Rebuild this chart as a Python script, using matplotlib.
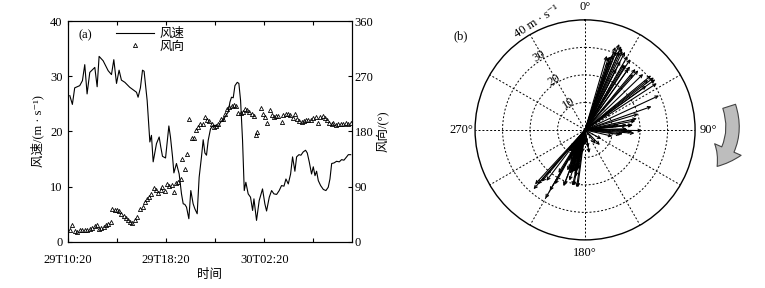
import numpy as np
import matplotlib
matplotlib.use("Agg")
import matplotlib.pyplot as plt
from matplotlib.lines import Line2D
from matplotlib.patches import FancyArrowPatch

plt.rcParams['font.family'] = ['Liberation Serif', 'Noto Sans CJK SC', 'DejaVu Sans']
plt.rcParams['font.size'] = 9

# wind speed (m/s), time in hours after 29T10:20
spd_hours = [0.14, 0.35, 0.54, 0.95, 1.17, 1.36, 1.55, 1.77, 2.18, 2.37, 2.53, 2.86, 3.27, 3.54,
             3.73, 3.95, 4.16, 4.35, 4.63, 5.03, 5.58, 5.71, 5.90, 6.07, 6.20, 6.45, 6.67, 6.80,
             6.94, 7.21, 7.43, 7.56, 7.70, 7.95, 8.22, 8.35, 8.52, 8.63, 8.84, 9.06, 9.25, 9.39,
             9.52, 9.66, 9.85, 10.01, 10.20, 10.34, 10.53, 10.69, 10.88, 11.02, 11.16, 11.29,
             11.43, 11.62, 11.84, 12.05, 12.24, 12.44, 12.65, 12.87, 13.06, 13.20, 13.33, 13.47,
             13.61, 13.80, 13.93, 14.07, 14.23, 14.37, 14.50, 14.69, 14.88, 15.05, 15.16, 15.37,
             15.59, 15.86, 16.05, 16.19, 16.41, 16.60, 16.79, 17.01, 17.22, 17.41, 17.61, 17.77,
             17.96, 18.15, 18.31, 18.50, 18.64, 18.83, 18.99, 19.18, 19.37, 19.51, 19.67, 19.86,
             20.00, 20.14, 20.27, 20.41, 20.60, 20.82, 21.03, 21.22, 21.36, 21.50, 21.69, 21.90,
             22.12, 22.31, 22.50, 22.72, 22.86, 23.05]
speed = [26.5, 24.9, 27.9, 28.3, 29.2, 32.1, 26.8, 30.7, 31.6, 28.1, 33.6, 32.8, 31.0, 30.3,
         33.0, 28.7, 31.1, 29.3, 28.9, 28.0, 27.1, 26.2, 27.9, 31.1, 30.9, 25.6, 18.1, 19.3,
         14.5, 17.8, 19.0, 17.2, 15.5, 15.2, 21.0, 19.0, 15.4, 12.5, 14.2, 12.3, 8.7, 6.9,
         6.8, 6.3, 4.2, 9.3, 6.9, 6.0, 5.1, 11.7, 15.4, 18.5, 16.1, 15.7,
         18.4, 20.5, 21.1, 21.1, 20.8, 21.7, 22.0, 22.9, 23.5, 25.3, 26.2, 26.1,
         28.3, 28.9, 28.7, 25.6, 18.4, 9.3, 10.8, 8.7, 8.1, 5.7, 7.8, 3.9,
         7.5, 9.6, 6.9, 5.6, 8.1, 9.3, 8.7, 8.6, 9.3, 10.2, 10.1, 11.4,
         10.5, 12.3, 15.4, 12.8, 15.4, 15.8, 15.7, 16.3, 16.6, 16.1, 14.5, 12.3,
         13.6, 12.0, 12.8, 11.1, 10.2, 9.5, 9.3, 9.9, 11.4, 14.2, 14.3, 14.6,
         14.5, 14.9, 14.8, 15.4, 15.8, 15.8]

# wind direction (deg)
dir_hours = [0.19, 0.35, 0.54, 0.73, 0.95, 1.14, 1.36, 1.55, 1.77, 1.99, 2.18, 2.37, 2.53, 2.72,
             2.91, 3.07, 3.27, 3.46, 3.62, 3.81, 4.00, 4.16, 4.35, 4.54, 4.71, 4.90, 5.09, 5.25,
             5.44, 5.63, 5.85, 6.07, 6.26, 6.45, 6.61, 6.80, 6.99, 7.16, 7.35, 7.54, 7.70, 7.89,
             8.08, 8.24, 8.44, 8.63, 8.79, 8.98, 9.17, 9.33, 9.52, 9.66, 9.88, 10.07, 10.26,
             10.42, 10.61, 10.80, 10.97, 11.16, 11.35, 11.51, 11.70, 11.89, 12.05, 12.24, 12.44,
             12.60, 12.79, 12.98, 13.14, 13.33, 13.52, 13.69, 13.88, 14.07, 14.23, 14.42, 14.61,
             14.78, 14.97, 15.16, 15.32, 15.43, 15.70, 15.86, 16.05, 16.24, 16.46, 16.60, 16.79,
             16.95, 17.14, 17.41, 17.55, 17.77, 17.96, 18.10, 18.31, 18.50, 18.69, 18.86, 19.05,
             19.24, 19.40, 19.59, 19.78, 20.00, 20.22, 20.41, 20.54, 20.76, 20.95, 21.14, 21.31,
             21.50, 21.63, 21.85, 22.04, 22.23, 22.45, 22.67, 22.86, 23.05]
direction = [19.0, 27.1, 17.9, 16.3, 19.0, 20.1, 20.1, 20.1, 21.2, 23.3, 25.5, 27.1, 21.7, 23.3,
             24.4, 27.1, 29.9, 32.6, 54.3, 52.7, 51.6, 50.5, 46.1, 41.8, 39.6, 35.3, 32.0, 30.9,
             35.3, 40.7, 54.3, 57.0, 65.1, 70.6, 73.3, 77.6, 88.5, 84.1, 79.8, 84.1, 89.6, 83.1,
             93.9, 90.7, 92.3, 81.4, 96.1, 97.7, 103.1, 135.7, 119.4, 142.8, 200.9, 169.9, 169.9,
             181.9, 187.3, 191.6, 191.6, 203.6, 199.2, 197.1, 191.6, 187.3, 188.4, 192.7, 200.9,
             200.9, 209.0, 217.2, 219.9, 221.0, 222.6, 221.0, 210.1, 210.1, 211.7, 217.2, 214.4,
             211.7, 207.9, 204.7, 173.7, 179.2, 218.8, 207.9, 203.6, 193.8, 214.4, 206.3, 203.6,
             205.2, 204.7, 195.4, 206.3, 209.0, 207.9, 206.3, 202.5, 207.9, 200.9, 197.1, 195.4,
             197.1, 198.2, 199.2, 199.2, 202.5, 203.6, 193.8, 203.6, 204.7, 202.5, 198.2, 193.8,
             192.7, 193.8, 190.0, 191.6, 192.7, 192.7, 193.8, 192.7, 193.8]

time_ticks = [0, 4, 8, 12, 16, 20]
time_labels = ['29T10:20', '', '29T18:20', '', '30T02:20', '']

fig = plt.figure(figsize=(7.65, 2.88), dpi=100)

# ---- panel (a): time series ----
ax = fig.add_axes([0.089, 0.160, 0.371, 0.767])
ax.plot(spd_hours, speed, color='black', lw=0.8)
ax.set_xlim(0, 23.15)
ax.set_ylim(0, 40)
ax.set_yticks([0, 10, 20, 30, 40])
ax.set_xticks(time_ticks)
ax.set_xticklabels(time_labels)
ax.tick_params(direction='in', top=True, length=3)
ax.tick_params(axis='x', pad=9)
ax.tick_params(axis='y', pad=4)
ax.set_ylabel('风速/(m · s⁻¹)', labelpad=4)
ax.set_xlabel('时间', labelpad=2)
ax.text(0.035, 0.92, '(a)', transform=ax.transAxes, fontsize=9)

ax2 = ax.twinx()
ax2.plot(dir_hours, direction, linestyle='none', marker='^', markersize=3,
         mfc='none', mec='black', mew=0.6)
ax2.set_ylim(0, 360)
ax2.set_yticks([0, 90, 180, 270, 360])
ax2.tick_params(direction='in', length=3, pad=2)
ax2.set_ylabel('风向/(°)', labelpad=2)

handles = [Line2D([], [], color='black', lw=0.8),
           Line2D([], [], linestyle='none', marker='^', markersize=3, mfc='none',
                  mec='black', mew=0.6)]
ax.legend(handles, ['风速', '风向'], loc='upper left', bbox_to_anchor=(0.13, 1.02),
          frameon=False, handlelength=3.0, handletextpad=0.5, labelspacing=0.05,
          fontsize=9)

# ---- panel (b): wind vectors ----
pax = fig.add_axes([0.621, 0.167, 0.2876, 0.764], projection='polar')
pax.set_theta_zero_location('N')
pax.set_theta_direction(-1)
pax.set_ylim(0, 40)
pax.set_yticks([10, 20, 30])
pax.set_yticklabels([])
pax.set_thetagrids(range(0, 360, 30),
                   ['0°', '', '', '90°', '', '', '180°', '', '', '270°', '', ''],
                   fontsize=9)
pax.tick_params(axis='x', pad=-1)
pax.grid(True, color='black', linestyle=(0, (2, 2)), linewidth=0.7)
pax.spines['polar'].set_linewidth(1.0)

vec_speed = np.interp(dir_hours, spd_hours, speed)
for d, s in zip(direction, vec_speed):
    pax.annotate('', xy=(np.deg2rad(d), s), xytext=(0, 0),
                 arrowprops=dict(arrowstyle='->', lw=0.8, color='black',
                                 shrinkA=0, shrinkB=0, mutation_scale=5))

for r in [10, 20, 30]:
    pax.text(np.deg2rad(328), r + 1.5, str(r), rotation=32, ha='center', va='center',
             fontsize=9)
pax.text(np.deg2rad(336), 43, '40 m · s⁻¹', rotation=33, ha='center',
         va='center', fontsize=9)
fig.text(0.593, 0.862, '(b)', fontsize=9)

# rotation arrow
arrow = FancyArrowPatch((0.952, 0.64), (0.935, 0.415), transform=fig.transFigure,
                        connectionstyle='arc3,rad=-0.3',
                        arrowstyle='simple,head_length=0.9,head_width=1.3,tail_width=0.6',
                        mutation_scale=16, facecolor='#bdbdbd', edgecolor='#444444',
                        lw=0.8)
fig.patches.append(arrow)

fig.savefig('out.png', dpi=100)
